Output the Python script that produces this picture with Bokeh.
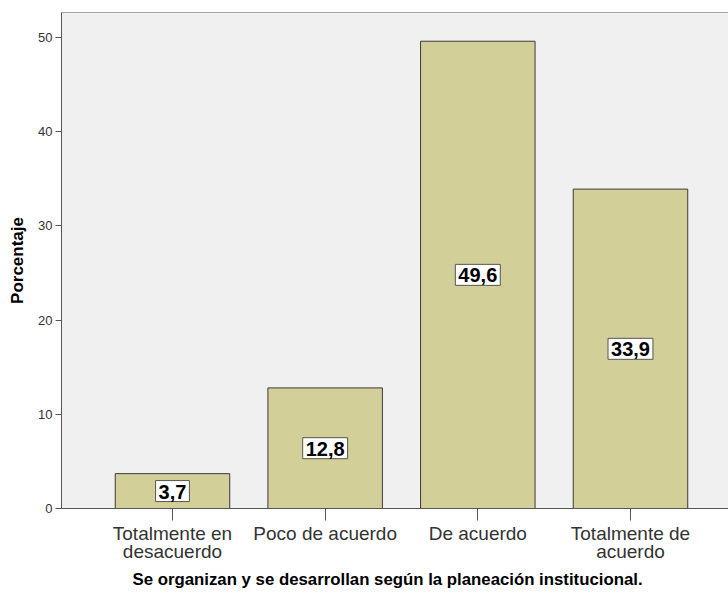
from bokeh.plotting import figure
from bokeh.models import Range1d, FixedTicker, Label, Title, ColumnDataSource, Span
from bokeh.embed import file_html
from bokeh.resources import INLINE

categories = ["Totalmente en\ndesacuerdo", "Poco de acuerdo", "De acuerdo", "Totalmente de\nacuerdo"]
values = [3.7, 12.8, 49.6, 33.9]
y_ticks = [0, 10, 20, 30, 40, 50]
x_title = "Se organizan y se desarrollan según la planeación institucional."
y_title = "Porcentaje"

FONT = "Liberation Sans"
xs = list(range(len(categories)))
Y_TOP = 52.65

p = figure(width=728, height=594, output_backend="svg", toolbar_location=None,
           x_range=Range1d(-0.727, 3.642), y_range=Range1d(0, Y_TOP),
           min_border_left=61, min_border_right=0, min_border_top=12, min_border_bottom=86)
p.background_fill_color = "#f0f0f0"
p.border_fill_color = "white"
p.outline_line_color = None
p.grid.visible = False
p.add_layout(Span(location=Y_TOP, dimension="width", line_color="#555555", line_width=1))

src = ColumnDataSource(dict(x=xs, top=values))
p.vbar(x="x", top="top", bottom=0, width=0.75, source=src,
       fill_color="#d3cf98", line_color="#3a3a3a", line_width=1)

for xi, v in zip(xs, values):
    p.add_layout(Label(x=xi, y=v / 2, text=f"{v:.1f}".replace(".", ","),
                       text_align="center", text_baseline="middle",
                       text_font=FONT, text_font_size="20px", text_font_style="bold",
                       text_color="black", background_fill_color="white",
                       border_line_color="#555555", border_line_width=1,
                       padding=dict(left=3, right=3, top=4, bottom=3)))

ya = p.yaxis[0]
ya.ticker = FixedTicker(ticks=y_ticks)
ya.minor_tick_line_color = None
ya.major_tick_out = 6
ya.major_tick_in = 0
ya.major_label_standoff = 3
ya.major_label_text_font = FONT
ya.major_label_text_font_size = "13px"
ya.major_label_text_color = "#333333"
ya.axis_line_color = "#555555"
ya.major_tick_line_color = "#555555"
ya.axis_label = y_title
ya.axis_label_text_font = FONT
ya.axis_label_text_font_size = "17px"
ya.axis_label_text_font_style = "bold"
ya.axis_label_text_color = "black"
ya.axis_label_standoff = 8

xa = p.xaxis[0]
xa.ticker = FixedTicker(ticks=xs)
xa.major_label_overrides = {i: c for i, c in zip(xs, categories)}
xa.minor_tick_line_color = None
xa.major_tick_out = 12
xa.major_tick_in = 0
xa.major_label_standoff = 2
xa.major_label_text_font = FONT
xa.major_label_text_font_size = "19px"
xa.major_label_text_color = "#333333"
xa.major_label_text_line_height = 0.9
xa.axis_line_color = "#555555"
xa.major_tick_line_color = "#555555"

p.add_layout(Title(text=x_title, align="left", offset=71, text_font=FONT,
                   text_font_size="16.8px", text_font_style="bold", text_color="black",
                   standoff=4), "below")

open("out.html", "w").write(file_html(p, INLINE))
